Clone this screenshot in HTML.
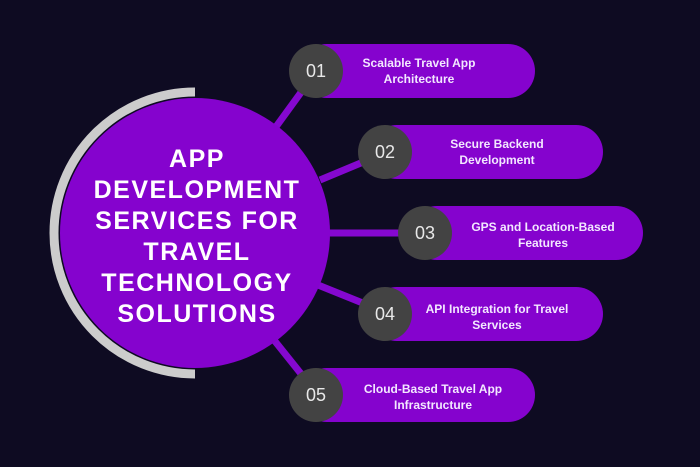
<!DOCTYPE html>
<html><head><style>
body{margin:0;background:#0e0b22;}
svg{display:block}
</style></head><body>
<svg width="700" height="467" viewBox="0 0 700 467" xmlns="http://www.w3.org/2000/svg" font-family="Liberation Sans, sans-serif">
<rect width="700" height="467" fill="#0e0b22"/>
<g stroke="#8508d0" stroke-width="7">
<line x1="270" y1="135" x2="310" y2="80"/>
<line x1="320" y1="180" x2="380" y2="155"/>
<line x1="325" y1="233" x2="420" y2="233"/>
<line x1="318" y1="285" x2="380" y2="310"/>
<line x1="270" y1="335" x2="310" y2="385"/>
</g>
<path d="M195 92 A141 141 0 0 0 195 374" fill="none" stroke="#cccccc" stroke-width="9"/>
<circle cx="195" cy="233" r="135" fill="#8503ce"/>
<g fill="#fff" font-weight="bold" font-size="25" text-anchor="middle" letter-spacing="1.5">
<text x="197" y="167">APP</text>
<text x="197" y="198">DEVELOPMENT</text>
<text x="197" y="229">SERVICES FOR</text>
<text x="197" y="260">TRAVEL</text>
<text x="197" y="291">TECHNOLOGY</text>
<text x="197" y="322">SOLUTIONS</text>
</g>
<g fill="#8503ce">
<rect x="300" y="44" width="235" height="54" rx="27"/>
<rect x="370" y="125" width="233" height="54" rx="27"/>
<rect x="410" y="206" width="233" height="54" rx="27"/>
<rect x="370" y="287" width="233" height="54" rx="27"/>
<rect x="300" y="368" width="235" height="54" rx="27"/>
</g>
<g fill="#434343">
<circle cx="316" cy="71" r="27"/>
<circle cx="385" cy="152" r="27"/>
<circle cx="425" cy="233" r="27"/>
<circle cx="385" cy="314" r="27"/>
<circle cx="316" cy="395" r="27"/>
</g>
<g fill="#e8e8e8" font-size="18" text-anchor="middle">
<text x="316" y="77">01</text>
<text x="385" y="158">02</text>
<text x="425" y="239">03</text>
<text x="385" y="320">04</text>
<text x="316" y="401">05</text>
</g>
<g fill="#f3e8ff" font-size="12" font-weight="bold" text-anchor="middle">
<text x="419" y="67">Scalable Travel App</text><text x="419" y="83">Architecture</text>
<text x="497" y="148">Secure Backend</text><text x="497" y="164">Development</text>
<text x="543" y="231">GPS and Location-Based</text><text x="543" y="247">Features</text>
<text x="497" y="313">API Integration for Travel</text><text x="497" y="329">Services</text>
<text x="433" y="393">Cloud-Based Travel App</text><text x="433" y="409">Infrastructure</text>
</g>
</svg>
</body></html>
